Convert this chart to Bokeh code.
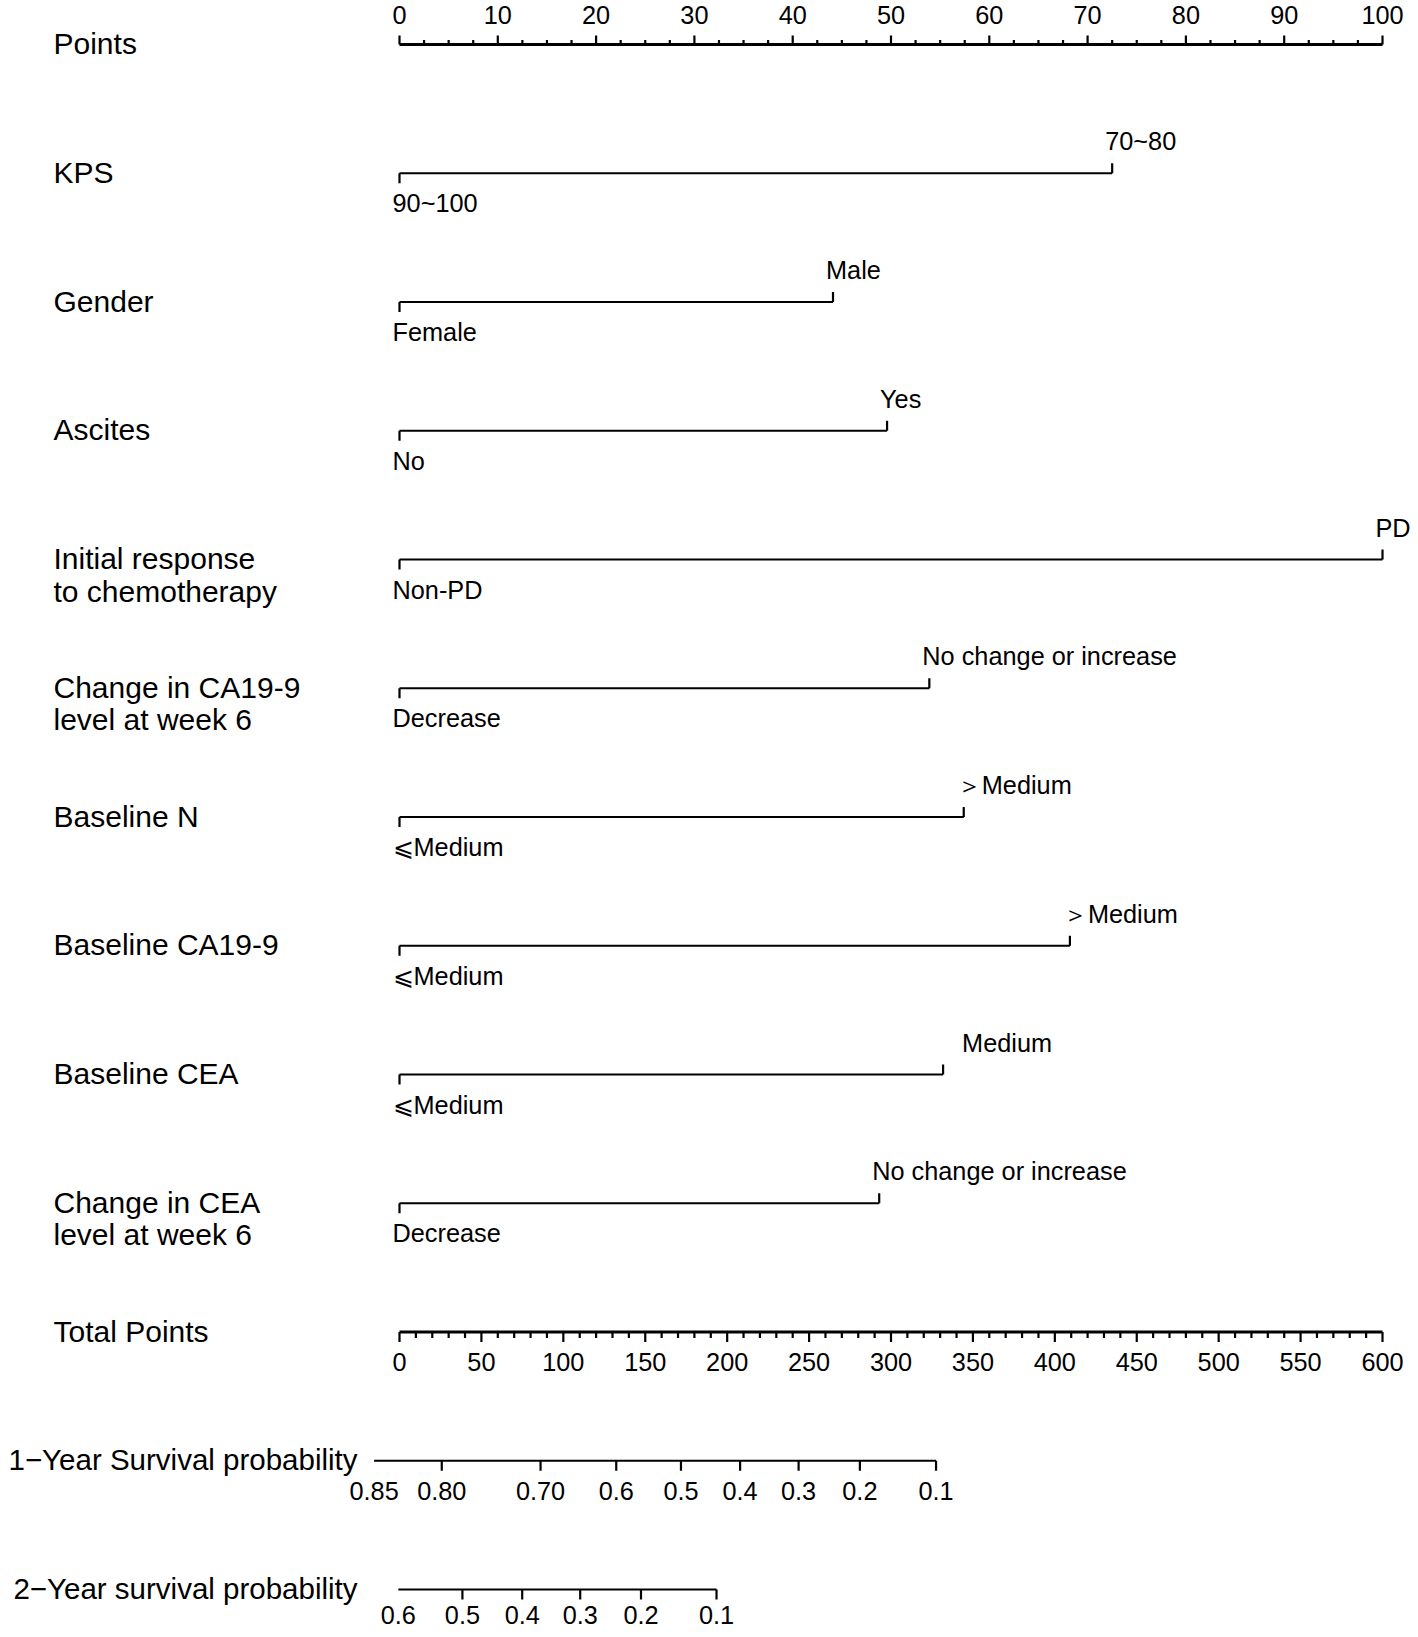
from bokeh.plotting import figure
from bokeh.models import Range1d
from bokeh.core.properties import value
from bokeh.embed import file_html
from bokeh.resources import INLINE

# ---------------- data ----------------
points_major = [0, 10, 20, 30, 40, 50, 60, 70, 80, 90, 100]
points_minor_step = 2.5

var_names = ["KPS", "Gender", "Ascites", "Initial response\nto chemotherapy",
             "Change in CA19-9\nlevel at week 6", "Baseline N", "Baseline CA19-9",
             "Baseline CEA", "Change in CEA\nlevel at week 6"]
low_levels = ["90~100", "Female", "No", "Non-PD", "Decrease",
              "\u2a7dMedium", "\u2a7dMedium", "\u2a7dMedium", "Decrease"]
high_levels = ["70~80", "Male", "Yes", "PD", "No change or increase",
               "\uff1eMedium", "\uff1eMedium", "Medium", "No change or increase"]
high_points = [72.5, 44.1, 49.6, 100.0, 53.9, 57.4, 68.2, 55.3, 48.8]

total_major = [0, 50, 100, 150, 200, 250, 300, 350, 400, 450, 500, 550, 600]
total_minor_step = 10

surv1_title = "1\u2212Year Survival probability"
surv1_labels = ["0.85", "0.80", "0.70", "0.6", "0.5", "0.4", "0.3", "0.2", "0.1"]
surv1_total = [-15.5, 25.8, 86.1, 132.3, 171.8, 207.9, 243.6, 281.0, 327.5]

surv2_title = "2\u2212Year survival probability"
surv2_labels = ["0.6", "0.5", "0.4", "0.3", "0.2", "0.1"]
surv2_total = [-0.7, 38.4, 74.9, 110.3, 147.4, 193.5]

# ---------------- layout ----------------
W, H = 1410, 1629
X0_PX = 399.0        # frame px of 0 points
PX_PER_POINT = 9.83
ROW0_PX = 44.0
PX_PER_ROW = 128.75
FONT = value("Liberation Sans")
ROW_FS = "30px"
SURV_FS = "29.5px"
LAB_FS = "25.3px"
LW = 2.2
AXW = 2.8

x_start = -X0_PX / PX_PER_POINT
x_end = (W - X0_PX) / PX_PER_POINT
y_top = -ROW0_PX / PX_PER_ROW
y_bottom = (H - ROW0_PX) / PX_PER_ROW


def dx(px):
    return px / PX_PER_POINT


def dy(px):
    return px / PX_PER_ROW


p = figure(width=W, height=H, x_range=Range1d(x_start, x_end),
           y_range=Range1d(y_bottom, y_top), output_backend="svg",
           toolbar_location=None, x_axis_type=None, y_axis_type=None,
           min_border=0)
p.extra_x_ranges["total"] = Range1d(x_start * 6, x_end * 6)
p.grid.visible = False
p.outline_line_color = None
p.background_fill_color = "white"
p.border_fill_color = "white"


def row_label(text, row, right=None):
    lines = text.split("\n")
    for i, ln in enumerate(lines):
        if right is None:
            p.text(x=[x_start + dx(53)], y=[row], text=[ln], text_font=FONT,
                   text_font_size=ROW_FS, text_align="left", text_baseline="middle",
                   y_offset=-1 + i * 32.5, text_color="black")
        else:
            p.text(x=[x_start + dx(right)], y=[row], text=[ln], text_font=FONT,
                   text_font_size=SURV_FS, text_align="right", text_baseline="middle",
                   y_offset=-1 + i * 32.5, text_color="black")


# ---- Points axis (row 0) ----
row = 0
row_label("Points", row)
p.segment(x0=[points_major[0]], y0=[row], x1=[points_major[-1]], y1=[row],
          line_width=AXW, line_color="black")
minor = []
v = points_major[0]
while v <= points_major[-1] + 1e-9:
    if v not in points_major:
        minor.append(v)
    v += points_minor_step
p.segment(x0=points_major, y0=[row] * len(points_major), x1=points_major,
          y1=[row - dy(9)] * len(points_major), line_width=LW, line_color="black")
p.segment(x0=minor, y0=[row] * len(minor), x1=minor,
          y1=[row - dy(4.5)] * len(minor), line_width=LW, line_color="black")
p.text(x=points_major, y=[row] * len(points_major), text=[str(t) for t in points_major],
       text_font=FONT, text_font_size=LAB_FS, text_align="center",
       text_baseline="middle", y_offset=-30, text_color="black")

# ---- variables ----
for i, (name, lo, hi, hp) in enumerate(zip(var_names, low_levels, high_levels, high_points)):
    row = i + 1
    row_label(name, row)
    p.segment(x0=[0], y0=[row], x1=[hp], y1=[row], line_width=LW, line_color="black")
    p.segment(x0=[0], y0=[row], x1=[0], y1=[row + dy(10)], line_width=LW, line_color="black")
    p.segment(x0=[hp], y0=[row], x1=[hp], y1=[row - dy(10)], line_width=LW, line_color="black")
    p.text(x=[0], y=[row], text=[lo], text_font=FONT, text_font_size=LAB_FS,
           text_align="left", text_baseline="middle", x_offset=-7, y_offset=30,
           text_color="black")
    gap = 26 if hi == "Medium" else 0   # symbol glyph missing in the original
    p.text(x=[hp], y=[row], text=[hi], text_font=FONT, text_font_size=LAB_FS,
           text_align="left", text_baseline="middle", x_offset=-7 + gap, y_offset=-32,
           text_color="black")

# ---- Total points (row 10) ----
row = 10
row_label("Total Points", row)
p.segment(x0=[total_major[0]], y0=[row], x1=[total_major[-1]], y1=[row],
          line_width=AXW, line_color="black", x_range_name="total")
tminor = []
v = total_major[0]
while v <= total_major[-1] + 1e-9:
    if v not in total_major:
        tminor.append(v)
    v += total_minor_step
p.segment(x0=total_major, y0=[row] * len(total_major), x1=total_major,
          y1=[row + dy(10)] * len(total_major), line_width=LW, line_color="black",
          x_range_name="total")
p.segment(x0=tminor, y0=[row] * len(tminor), x1=tminor,
          y1=[row + dy(6)] * len(tminor), line_width=LW, line_color="black",
          x_range_name="total")
p.text(x=total_major, y=[row] * len(total_major), text=[str(t) for t in total_major],
       text_font=FONT, text_font_size=LAB_FS, text_align="center",
       text_baseline="middle", y_offset=30, text_color="black", x_range_name="total")

# ---- survival scales ----
for row, title, labs, tp, off in [(11, surv1_title, surv1_labels, surv1_total, 30),
                                  (12, surv2_title, surv2_labels, surv2_total, 25)]:
    row_label(title, row, right=357)
    p.segment(x0=[tp[0]], y0=[row], x1=[tp[-1]], y1=[row], line_width=LW,
              line_color="black", x_range_name="total")
    p.segment(x0=tp[1:], y0=[row] * (len(tp) - 1), x1=tp[1:],
              y1=[row + dy(10)] * (len(tp) - 1), line_width=LW, line_color="black",
              x_range_name="total")
    p.text(x=tp, y=[row] * len(tp), text=labs, text_font=FONT, text_font_size=LAB_FS,
           text_align="center", text_baseline="middle", y_offset=off,
           text_color="black", x_range_name="total")

open("out.html", "w").write(file_html(p, INLINE))
